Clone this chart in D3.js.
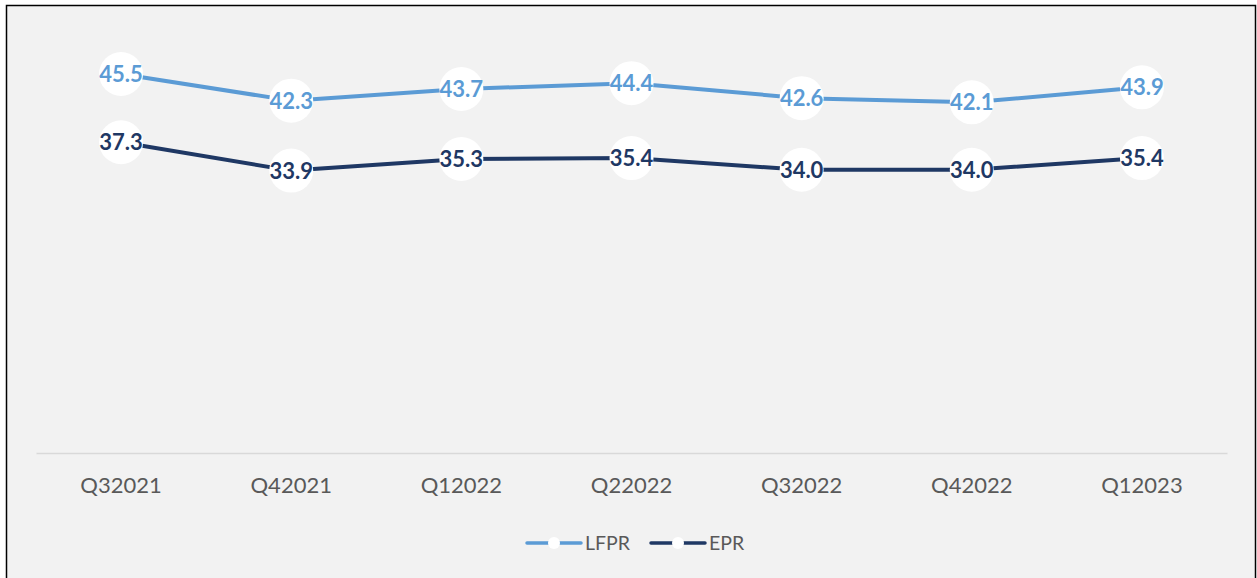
<!DOCTYPE html>
<html><head><meta charset="utf-8">
<script src="https://cdn.jsdelivr.net/npm/d3@7"></script>
<style>body{margin:0;background:#fff;}svg{display:block;}</style>
</head><body>
<svg id="c" width="1257" height="578"></svg>
<script>
const categories = ["Q32021","Q42021","Q12022","Q22022","Q32022","Q42022","Q12023"];
const lfpr = [45.5,42.3,43.7,44.4,42.6,42.1,43.9];
const epr = [37.3,33.9,35.3,35.4,34.0,34.0,35.4];
const seriesNames = ["LFPR","EPR"];
const seriesColors = ["#5b9bd5","#1f3864"];

const svg = d3.select("#c");
svg.append("rect").attr("x",6.5).attr("y",5.5).attr("width",1249).attr("height",580)
  .attr("fill","#f2f2f2").attr("stroke","#000").attr("stroke-width",1.5);

const x = d3.scaleBand().domain(categories).range([36,1227]);
const y = d3.scaleLinear().domain([0,50]).range([453,36.5]);

const ax = svg.append("g").attr("transform","translate(0,453)")
  .call(d3.axisBottom(x).tickSize(0).tickPadding(24));
ax.select(".domain").attr("stroke","#d9d9d9").attr("stroke-width",1.5);
ax.selectAll("text").attr("font-family","Lato, 'Open Sans', sans-serif").attr("font-size",22).attr("fill","#595959");

const data = [lfpr, epr];
const line = d3.line().x((d,i)=>x(categories[i])+x.bandwidth()/2).y(d=>y(d));
data.forEach((vals,si)=>{
  const g = svg.append("g");
  g.append("path").datum(vals).attr("d",line).attr("fill","none")
    .attr("stroke",seriesColors[si]).attr("stroke-width",4).attr("stroke-linejoin","round");
  g.selectAll("circle").data(vals).join("circle")
    .attr("cx",(d,i)=>x(categories[i])+x.bandwidth()/2).attr("cy",d=>y(d)).attr("r",22).attr("fill","#fff");
  g.selectAll("text").data(vals).join("text")
    .attr("x",(d,i)=>x(categories[i])+x.bandwidth()/2).attr("y",d=>y(d))
    .attr("dy","0.36em").attr("text-anchor","middle")
    .attr("font-family","Lato, 'Open Sans', sans-serif").attr("font-weight","bold").attr("font-size",22)
    .attr("fill",seriesColors[si]).text(d=>d.toFixed(1));
});

// legend
const leg = svg.append("g");
const legX = [527,651];
seriesNames.forEach((n,i)=>{
  const g = leg.append("g").attr("transform",`translate(${legX[i]},543)`);
  g.append("line").attr("x1",0).attr("x2",54).attr("y1",0).attr("y2",0)
    .attr("stroke",seriesColors[i]).attr("stroke-width",3.5).attr("stroke-linecap","round");
  g.append("circle").attr("cx",27).attr("cy",0).attr("r",6).attr("fill","#fff");
  g.append("text").attr("x",58).attr("y",0).attr("dy","0.36em")
    .attr("font-family","Lato, 'Open Sans', sans-serif").attr("font-size",19.5).attr("fill","#595959").text(n);
});
</script>
</body></html>
